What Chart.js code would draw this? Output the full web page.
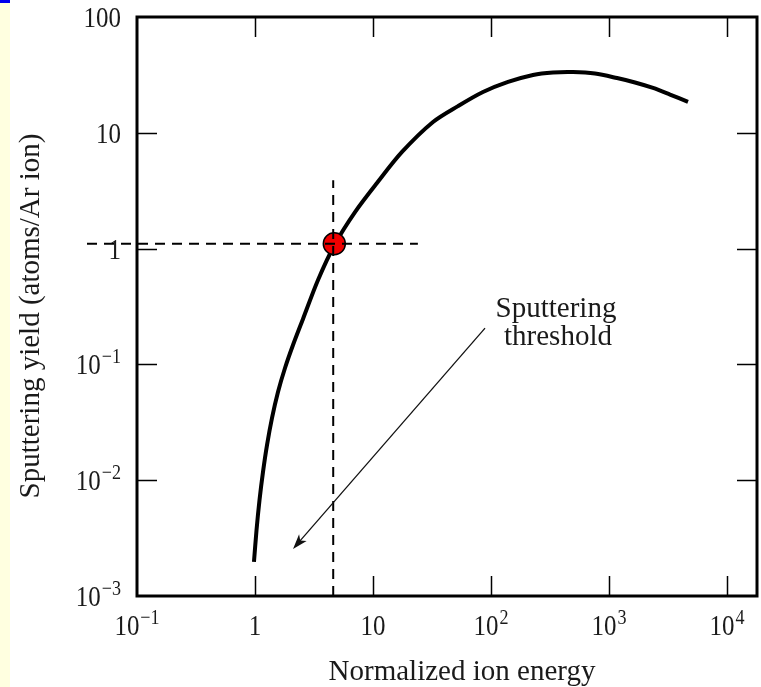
<!DOCTYPE html>
<html>
<head>
<meta charset="utf-8">
<title>Sputtering yield</title>
<script src="https://cdn.jsdelivr.net/npm/chart.js@4.4.1/dist/chart.umd.min.js"></script>
<style>
    html, body { margin: 0; padding: 0; background: #fff; overflow: hidden; }
    #wrap { position: relative; width: 761px; height: 687px; }
    canvas { display: block; }
</style>
</head>
<body>
<div id="wrap"><canvas id="chart" width="761" height="687"></canvas></div>
<script>
// Curve
const energy = [0.980, 1.030, 1.092, 1.169, 1.264, 1.394, 1.566, 1.796, 2.099, 2.551, 3.420, 4.764,
    7.04, 10.81, 17.61, 32.25, 52.5, 85.5, 139.4, 226.9, 335.3, 495.3, 760.8, 1169, 1661, 2360, 3288, 4672];
const yieldValues = [0.00197, 0.00371, 0.00675, 0.0118, 0.0201, 0.0345, 0.0578, 0.0931, 0.147, 0.247, 0.536, 1.096,
    2.07, 3.69, 6.83, 12.4, 17.0, 22.5, 27.5, 31.6, 33.2, 33.5, 32.5, 29.7, 27.2, 24.4, 21.4, 18.5];

// Threshold marker and guide lines
const thresholdPoint = [{ x: 4.7, y: 1.1 }];
const verticalGuide = [{ x: 4.6, y: 0.001 }, { x: 4.6, y: 3.9 }];
const horizontalGuide = [{ x: 0.0377, y: 1.1 }, { x: 24, y: 1.1 }];
const arrowFrom = { x: 89, y: 0.206 };
const arrowTo = { x: 2.10, y: 0.00255 };

// Axis ticks
const xTicks = [0.1, 1, 10, 100, 1000, 10000];
const xTickText = [['10', '\u22121'], ['1', ''], ['10', ''], ['10', '2'], ['10', '3'], ['10', '4']];
const yTicks = [0.001, 0.01, 0.1, 1, 10, 100];
const yTickText = [['10', '\u22123'], ['10', '\u22122'], ['10', '\u22121'], ['1', ''], ['10', ''], ['100', '']];

const FONT = '"Liberation Serif", "Times New Roman", serif';

function drawText(ctx, s, x, y, size, align, sx) {
    ctx.save();
    ctx.font = size + 'px ' + FONT;
    ctx.textAlign = 'left';
    ctx.textBaseline = 'alphabetic';
    const w = ctx.measureText(s).width * sx;
    let x0 = x;
    if (align === 'center') x0 = x - w / 2;
    if (align === 'right') x0 = x - w;
    ctx.translate(x0, y);
    ctx.scale(sx, 1);
    ctx.fillText(s, 0, 0);
    ctx.restore();
    return w;
}

function measure(ctx, s, size, sx) {
    ctx.save();
    ctx.font = size + 'px ' + FONT;
    const w = ctx.measureText(s).width * sx;
    ctx.restore();
    return w;
}

// base + superscript label
function drawPower(ctx, parts, x, y, align) {
    const sx = 0.86;
    const wb = measure(ctx, parts[0], 29, sx);
    const we = parts[1] ? measure(ctx, parts[1], 21, sx) + 1 : 0;
    const total = wb + we;
    let x0 = x;
    if (align === 'center') x0 = x - total / 2;
    if (align === 'right') x0 = x - total;
    drawText(ctx, parts[0], x0, y, 29, 'left', sx);
    if (parts[1]) drawText(ctx, parts[1], x0 + wb + 1, y - 11, 21, 'left', sx);
}

const decorPlugin = {
    id: 'decor',
    beforeDraw(chart) {
        const ctx = chart.ctx;
        ctx.save();
        ctx.fillStyle = '#ffffe0';
        ctx.fillRect(0, 0, 10, chart.height);
        ctx.fillStyle = '#0000ee';
        ctx.fillRect(0, 0, 10, 3);
        ctx.restore();
    },
    afterDraw(chart) {
        const ctx = chart.ctx;
        const a = chart.chartArea;
        const xs = chart.scales.x;
        const ys = chart.scales.y;

        // frame + inward ticks
        ctx.save();
        ctx.strokeStyle = '#000';
        ctx.lineWidth = 3;
        ctx.strokeRect(a.left, a.top, a.right - a.left, a.bottom - a.top);
        ctx.lineWidth = 1.5;
        ctx.beginPath();
        xTicks.forEach(v => {
            const px = Math.round(xs.getPixelForValue(v)) + 0.5;
            if (px <= a.left + 2 || px >= a.right - 2) return;
            ctx.moveTo(px, a.bottom); ctx.lineTo(px, a.bottom - 20);
            ctx.moveTo(px, a.top); ctx.lineTo(px, a.top + 20);
        });
        yTicks.forEach(v => {
            const py = Math.round(ys.getPixelForValue(v)) + 0.5;
            if (py <= a.top + 2 || py >= a.bottom - 2) return;
            ctx.moveTo(a.left, py); ctx.lineTo(a.left + 20, py);
            ctx.moveTo(a.right, py); ctx.lineTo(a.right - 20, py);
        });
        ctx.stroke();

        // tick labels
        ctx.fillStyle = '#1a1a1a';
        xTicks.forEach((v, i) => {
            drawPower(ctx, xTickText[i], xs.getPixelForValue(v), a.bottom + 39, 'center');
        });
        yTicks.forEach((v, i) => {
            drawPower(ctx, yTickText[i], 121, ys.getPixelForValue(v) + 10, 'right');
        });

        // axis titles
        drawText(ctx, 'Normalized ion energy', 462, 680, 29, 'center', 1);
        ctx.save();
        ctx.translate(39, 316);
        ctx.rotate(-Math.PI / 2);
        drawText(ctx, 'Sputtering yield (atoms/Ar ion)', 0, 0, 29, 'center', 1);
        ctx.restore();

        // annotation
        drawText(ctx, 'Sputtering', 556, 317, 29, 'center', 1);
        drawText(ctx, 'threshold', 558, 345, 29, 'center', 1);

        // arrow
        const x1 = xs.getPixelForValue(arrowFrom.x), y1 = ys.getPixelForValue(arrowFrom.y);
        const x2 = xs.getPixelForValue(arrowTo.x), y2 = ys.getPixelForValue(arrowTo.y);
        const ang = Math.atan2(y2 - y1, x2 - x1);
        ctx.strokeStyle = '#111';
        ctx.lineWidth = 1.3;
        ctx.beginPath();
        ctx.moveTo(x1, y1);
        ctx.lineTo(x2 - 8 * Math.cos(ang), y2 - 8 * Math.sin(ang));
        ctx.stroke();
        ctx.fillStyle = '#111';
        ctx.beginPath();
        ctx.moveTo(x2, y2);
        ctx.lineTo(x2 - 15 * Math.cos(ang) + 5 * Math.sin(ang), y2 - 15 * Math.sin(ang) - 5 * Math.cos(ang));
        ctx.lineTo(x2 - 11 * Math.cos(ang), y2 - 11 * Math.sin(ang));
        ctx.lineTo(x2 - 15 * Math.cos(ang) - 5 * Math.sin(ang), y2 - 15 * Math.sin(ang) + 5 * Math.cos(ang));
        ctx.closePath();
        ctx.fill();
        ctx.restore();
    }
};

document.addEventListener('DOMContentLoaded', function() {
    const ctx = document.getElementById('chart').getContext('2d');
    new Chart(ctx, {
        type: 'scatter',
        data: {
            datasets: [
                {
                    label: 'vertical guide',
                    data: verticalGuide,
                    showLine: true,
                    borderColor: '#000',
                    borderWidth: 2,
                    borderDash: [10, 7],
                    pointRadius: 0,
                    order: 0
                },
                {
                    label: 'horizontal guide',
                    data: horizontalGuide,
                    showLine: true,
                    borderColor: '#000',
                    borderWidth: 2,
                    borderDash: [10, 7],
                    pointRadius: 0,
                    clip: false,
                    order: 0
                },
                {
                    label: 'threshold',
                    data: thresholdPoint,
                    pointRadius: 11,
                    backgroundColor: '#f00000',
                    borderColor: '#000',
                    borderWidth: 1.5,
                    order: 1
                },
                {
                    label: 'yield',
                    data: energy.map((e, i) => ({ x: e, y: yieldValues[i] })),
                    showLine: true,
                    borderColor: '#000',
                    borderWidth: 4,
                    borderCapStyle: 'butt',
                    pointRadius: 0,
                    tension: 0.3,
                    order: 2
                }
            ]
        },
        options: {
            responsive: false,
            animation: false,
            devicePixelRatio: 1,
            layout: { autoPadding: false, padding: { left: 137, top: 17, right: 4, bottom: 91 } },
            plugins: { legend: { display: false }, tooltip: { enabled: false } },
            scales: {
                x: { type: 'logarithmic', min: 0.1, max: 17950, display: false },
                y: { type: 'logarithmic', min: 0.001, max: 100, display: false }
            }
        },
        plugins: [decorPlugin]
    });
});
</script>
</body>
</html>
